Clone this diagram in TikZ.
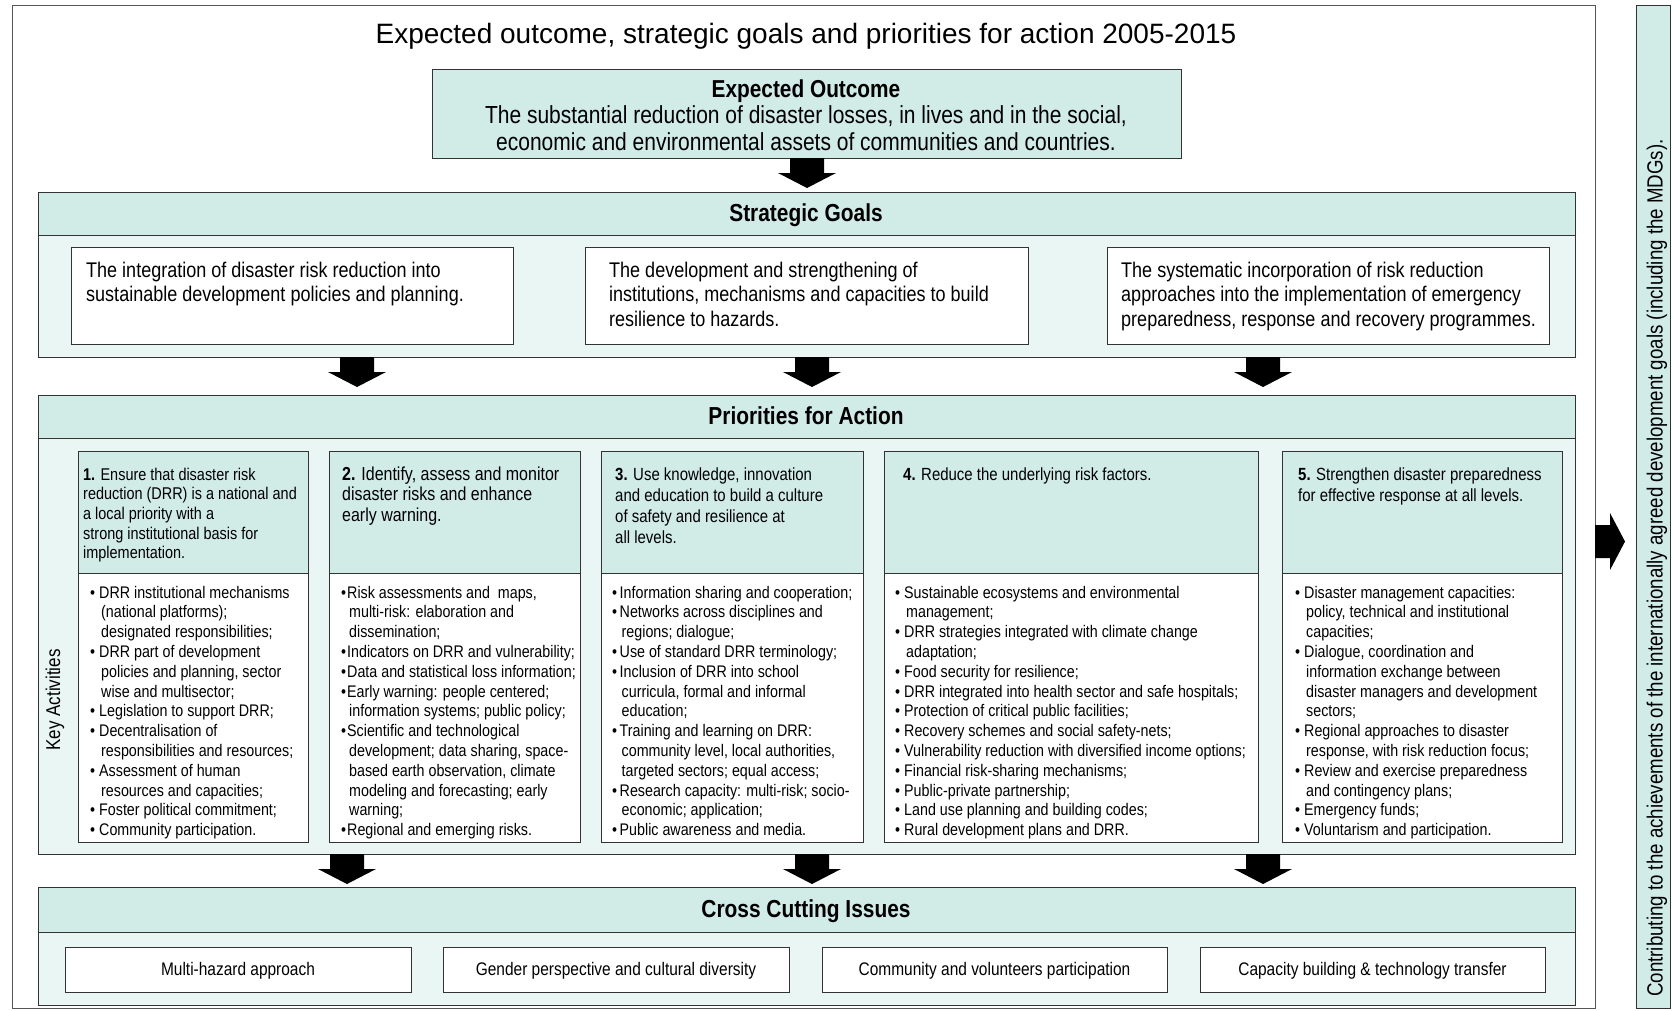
\documentclass[tikz,border=0pt]{standalone}
\usepackage{fontspec}
\setmainfont{Liberation Sans}[FakeStretch=0.85]
\newfontfamily\titlefont{Liberation Sans}
\usetikzlibrary{fit}
\definecolor{headbg}{HTML}{D1EBE7}
\definecolor{panelbg}{HTML}{E9F6F4}
\definecolor{linec}{HTML}{333333}
\definecolor{framec}{HTML}{555555}
\newcommand\fsz[2]{\fontsize{#1pt}{#2pt}\selectfont}
\newcommand\bl{\makebox[9pt][l]{\textbullet}}
\newcommand\ci{\hspace*{11pt}}
\newcommand\blt{\makebox[6pt][l]{\textbullet}}
\newcommand\cit{\hspace*{8pt}}
\newcommand\blm{\makebox[7.5pt][l]{\textbullet}}
\newcommand\cim{\hspace*{9.5pt}}
\newcommand\dnarrow[3]{\fill[black] (#1-17,#2) -- (#1+17,#2) -- (#1+17,#2+15) -- (#1+29,#2+15) -- (#1,#3) -- (#1-29,#2+15) -- (#1-17,#2+15) -- cycle;}
\tikzset{
  panel/.style={draw=linec, fill=panelbg, line width=1pt, inner sep=0pt},
  headbar/.style={draw=linec, fill=headbg, line width=1pt, inner sep=0pt},
  whitebox/.style={draw=linec, fill=white, line width=1pt, inner sep=0pt},
  txt/.style={inner sep=0pt, text=black},
  htitle/.style={txt, anchor=base, font=\fsz{24.6}{28}\bfseries},
  goaltxt/.style={txt, anchor=north west, align=left, font=\fsz{21.2}{24.5}},
  prhead/.style={txt, anchor=north west, align=left, font=\fsz{17.6}{21}},
  prbody/.style={txt, anchor=north west, align=left, font=\fsz{16.8}{19.8}},
  cctxt/.style={txt, anchor=base, font=\fsz{18.2}{21}},
}
\begin{document}
\begin{tikzpicture}[x=1pt,y=-1pt]
\useasboundingbox (0,0) rectangle (1672,1010);
\fill[white] (0,0) rectangle (1672,1010);

% outer frame and right panel
\node[fit={(12,5) (1595,1008)}, inner sep=0pt, draw=framec, line width=1pt] (frame) {};
\node[fit={(1636,5) (1670,1008)}, headbar] (mdg) {};
\node[txt, rotate=90, font=\fsz{22}{26}] (mdgt) at (1657,568) {Contributing to the achievements of the internationally agreed development goals (including the MDGs).};
\fill[black] (1595,525) -- (1610,525) -- (1610,513) -- (1625,541.5) -- (1610,570) -- (1610,558) -- (1595,558) -- cycle;

% title
\node[txt, anchor=base, font=\titlefont\fsz{28}{32}] (title) at (806,43) {Expected outcome, strategic goals and priorities for action 2005-2015};

% expected outcome
\node[fit={(432,69) (1181,158)}, headbar] (eo) {};
\node[txt, anchor=base, font=\fsz{24.5}{28}\bfseries] (eo1) at (806,97) {Expected Outcome};
\node[txt, anchor=base, font=\fsz{24.7}{28}] (eo2) at (806,123) {The substantial reduction of disaster losses, in lives and in the social,};
\node[txt, anchor=base, font=\fsz{24.7}{28}] (eo3) at (806,150) {economic and environmental assets of communities and countries.};
\dnarrow{807}{158}{188}

% strategic goals
\node[fit={(38,192) (1575,357)}, panel] (sg) {};
\node[fit={(38,192) (1575,235)}, headbar] (sgh) {};
\node[htitle] (sght) at (806,221) {Strategic Goals};
\node[fit={(71,247) (513,344)}, whitebox] (g1) {};
\node[fit={(585,247) (1028,344)}, whitebox] (g2) {};
\node[fit={(1107,247) (1549,344)}, whitebox] (g3) {};
\node[goaltxt] (g1t) at (86,260) {\strut The integration of disaster risk reduction into\\sustainable development policies and planning.};
\node[goaltxt] (g2t) at (609,260) {\strut The development and strengthening of\\institutions, mechanisms and capacities to build\\resilience to hazards.};
\node[goaltxt] (g3t) at (1121,260) {\strut The systematic incorporation of risk reduction\\approaches into the implementation of emergency\\preparedness, response and recovery programmes.};
\dnarrow{357}{357}{387}
\dnarrow{812}{357}{387}
\dnarrow{1263}{357}{387}

% priorities for action
\node[fit={(38,395) (1575,854)}, panel] (pa) {};
\node[fit={(38,395) (1575,438)}, headbar] (pah) {};
\node[htitle] (paht) at (806,424) {Priorities for Action};
\node[txt, rotate=90, font=\fsz{20}{24}] (ka) at (55,700) {Key Activities};

\node[fit={(78,451) (308,842)}, whitebox] (p1) {};
\node[fit={(78,451) (308,573)}, headbar] (p1h) {};
\node[fit={(329,451) (580,842)}, whitebox] (p2) {};
\node[fit={(329,451) (580,573)}, headbar] (p2h) {};
\node[fit={(601,451) (863,842)}, whitebox] (p3) {};
\node[fit={(601,451) (863,573)}, headbar] (p3h) {};
\node[fit={(884,451) (1258,842)}, whitebox] (p4) {};
\node[fit={(884,451) (1258,573)}, headbar] (p4h) {};
\node[fit={(1282,451) (1562,842)}, whitebox] (p5) {};
\node[fit={(1282,451) (1562,573)}, headbar] (p5h) {};

\node[prhead, font=\fsz{17}{19.7}] (p1t) at (83,466) {\strut\textbf{1.} Ensure that disaster risk\\reduction (DRR) is a national and\\a local priority with a\\strong institutional basis for\\implementation.};
\node[prhead, font=\fsz{18.8}{20.5}] (p2t) at (342,465.5) {\strut\textbf{2.} Identify, assess and monitor\\disaster risks and enhance\\early warning.};
\node[prhead] (p3t) at (615,465.3) {\strut\textbf{3.} Use knowledge, innovation\\and education to build a culture\\of safety and resilience at\\all levels.};
\node[prhead] (p4t) at (903,465.3) {\strut\textbf{4.} Reduce the underlying risk factors.};
\node[prhead] (p5t) at (1298,465.3) {\strut\textbf{5.} Strengthen disaster preparedness\\for effective response at all levels.};

\node[prbody] (p1b) at (90,584) {\strut\bl DRR institutional mechanisms\\\ci (national platforms);\\\ci designated responsibilities;\\\bl DRR part of development\\\ci policies and planning, sector\\\ci wise and multisector;\\\bl Legislation to support DRR;\\\bl Decentralisation of\\\ci responsibilities and resources;\\\bl Assessment of human\\\ci resources and capacities;\\\bl Foster political commitment;\\\bl Community participation.};
\node[prbody] (p2b) at (341,584) {\strut\blt Risk assessments and\ \ maps,\\\cit multi-risk: elaboration and\\\cit dissemination;\\\blt Indicators on DRR and vulnerability;\\\blt Data and statistical loss information;\\\blt Early warning: people centered;\\\cit information systems; public policy;\\\blt Scientific and technological\\\cit development; data sharing, space-\\\cit based earth observation, climate\\\cit modeling and forecasting; early\\\cit warning;\\\blt Regional and emerging risks.};
\node[prbody] (p3b) at (612,584) {\strut\blm Information sharing and cooperation;\\\blm Networks across disciplines and\\\cim regions; dialogue;\\\blm Use of standard DRR terminology;\\\blm Inclusion of DRR into school\\\cim curricula, formal and informal\\\cim education;\\\blm Training and learning on DRR:\\\cim community level, local authorities,\\\cim targeted sectors; equal access;\\\blm Research capacity: multi-risk; socio-\\\cim economic; application;\\\blm Public awareness and media.};
\node[prbody] (p4b) at (895,584) {\strut\bl Sustainable ecosystems and environmental\\\ci management;\\\bl DRR strategies integrated with climate change\\\ci adaptation;\\\bl Food security for resilience;\\\bl DRR integrated into health sector and safe hospitals;\\\bl Protection of critical public facilities;\\\bl Recovery schemes and social safety-nets;\\\bl Vulnerability reduction with diversified income options;\\\bl Financial risk-sharing mechanisms;\\\bl Public-private partnership;\\\bl Land use planning and building codes;\\\bl Rural development plans and DRR.};
\node[prbody] (p5b) at (1295,584) {\strut\bl Disaster management capacities:\\\ci policy, technical and institutional\\\ci capacities;\\\bl Dialogue, coordination and\\\ci information exchange between\\\ci disaster managers and development\\\ci sectors;\\\bl Regional approaches to disaster\\\ci response, with risk reduction focus;\\\bl Review and exercise preparedness\\\ci and contingency plans;\\\bl Emergency funds;\\\bl Voluntarism and participation.};

\dnarrow{347}{854}{884}
\dnarrow{812}{854}{884}
\dnarrow{1263}{854}{884}

% cross cutting issues
\node[fit={(38,887) (1575,1005)}, panel] (cc) {};
\node[fit={(38,887) (1575,932)}, headbar] (cch) {};
\node[htitle] (ccht) at (806,917) {Cross Cutting Issues};
\node[fit={(65,947) (411,992)}, whitebox] (c1) {};
\node[fit={(443,947) (789,992)}, whitebox] (c2) {};
\node[fit={(822,947) (1167,992)}, whitebox] (c3) {};
\node[fit={(1200,947) (1545,992)}, whitebox] (c4) {};
\node[cctxt] (c1t) at (238,975) {Multi-hazard approach};
\node[cctxt] (c2t) at (616,975) {Gender perspective and cultural diversity};
\node[cctxt] (c3t) at (994.5,975) {Community and volunteers participation};
\node[cctxt] (c4t) at (1372.5,975) {Capacity building \& technology transfer};
\end{tikzpicture}
\end{document}
